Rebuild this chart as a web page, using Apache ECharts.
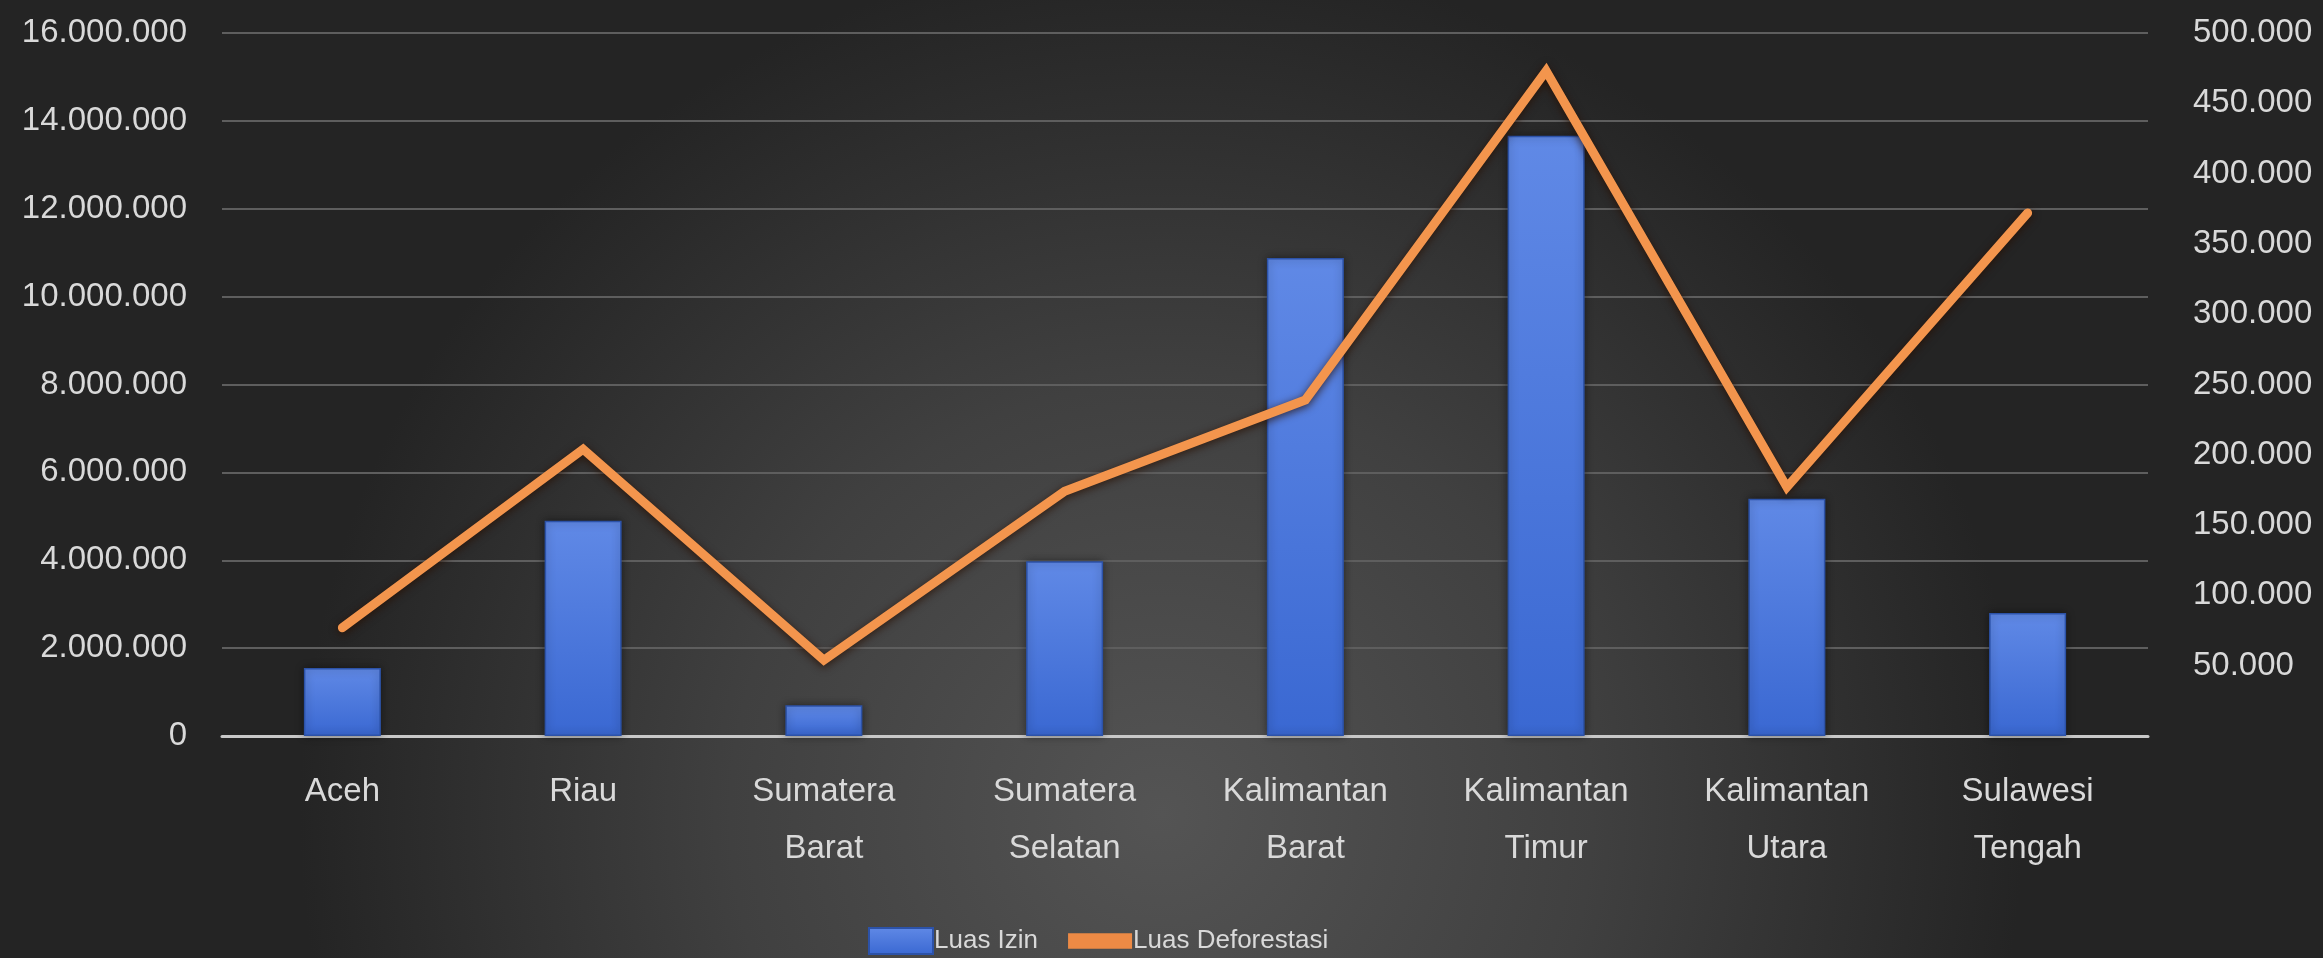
<!DOCTYPE html>
<html>
<head>
<meta charset="utf-8">
<script src="https://cdn.jsdelivr.net/npm/echarts@6/dist/echarts.min.js"></script>
<style>
  html, body { margin: 0; padding: 0; background: #333; }
  #chart { width: 2323px; height: 958px; }
</style>
</head>
<body>
<div id="chart"></div>
<script>
// Provinces on the category axis (two-line labels)
const categories = [
  'Aceh', 'Riau', 'Sumatera\nBarat', 'Sumatera\nSelatan',
  'Kalimantan\nBarat', 'Kalimantan\nTimur', 'Kalimantan\nUtara', 'Sulawesi\nTengah'
];
// Permit area (ha), left axis
const luasIzin = [1550000, 4900000, 700000, 3980000, 10880000, 13660000, 5400000, 2800000];
// Deforested area (ha), right axis
const luasDeforestasi = [77000, 204000, 54000, 174000, 239000, 473000, 177000, 372000];
// Axis ranges
const leftMax = 16000000, leftStep = 2000000;
const rightMax = 500000, rightStep = 50000;

// Indonesian number formatting: dots as thousands separators
function idFormat(v) {
  return String(Math.round(v)).replace(/\B(?=(\d{3})+(?!\d))/g, '.');
}

const textColor = '#d9d9d9';
const font = '"Liberation Sans", Arial, sans-serif';

const chart = echarts.init(document.getElementById('chart'), null, { renderer: 'canvas' });

chart.setOption({
  backgroundColor: {
    type: 'radial', x: 0.5, y: 0.85, r: 0.9,
    colorStops: [
      { offset: 0, color: '#545454' },
      { offset: 0.5, color: '#404040' },
      { offset: 1, color: '#242424' }
    ]
  },
  animation: false,
  textStyle: { fontFamily: font, color: textColor },
  grid: { left: 222, right: 175, top: 33, bottom: 222, containLabel: false },
  legend: {
    left: 863, top: 922,
    itemGap: 30, itemWidth: 64, itemHeight: 26,
    textStyle: { color: textColor, fontSize: 26, fontFamily: font, padding: [0, 0, 0, -4] },
    data: [
      { name: 'Luas Izin', icon: 'rect' },
      { name: 'Luas Deforestasi', icon: 'path://M0,38 L100,38 L100,62 L0,62 Z' }
    ]
  },
  xAxis: {
    type: 'category',
    data: categories,
    axisLine: { show: true, lineStyle: { color: '#c8c8c8', width: 3 } },
    axisTick: { show: false },
    axisLabel: {
      color: textColor, fontSize: 33, fontFamily: font,
      lineHeight: 57, margin: 27, interval: 0
    }
  },
  yAxis: [
    {
      type: 'value', min: 0, max: leftMax, interval: leftStep,
      axisLine: { show: false }, axisTick: { show: false },
      axisLabel: {
        color: textColor, fontSize: 33, fontFamily: font, margin: 35,
        formatter: v => idFormat(v)
      },
      splitLine: { show: true, lineStyle: { color: '#5e5e5e', width: 2 } }
    },
    {
      type: 'value', min: 0, max: rightMax, interval: rightStep,
      position: 'right',
      axisLine: { show: false }, axisTick: { show: false },
      axisLabel: {
        color: textColor, fontSize: 33, fontFamily: font, margin: 45,
        showMinLabel: false,
        formatter: v => idFormat(v)
      },
      splitLine: { show: false }
    }
  ],
  series: [
    {
      name: 'Luas Izin',
      type: 'bar',
      yAxisIndex: 0,
      barWidth: 77,
      data: luasIzin,
      itemStyle: {
        color: {
          type: 'linear', x: 0, y: 0, x2: 0, y2: 1,
          colorStops: [
            { offset: 0, color: '#6089e6' },
            { offset: 1, color: '#3a68d2' }
          ]
        },
        borderColor: '#2c52a8',
        borderWidth: 1.5,
        shadowColor: 'rgba(0,0,0,0.45)',
        shadowBlur: 8
      },
      z: 2
    },
    {
      name: 'Luas Deforestasi',
      type: 'line',
      yAxisIndex: 1,
      data: luasDeforestasi,
      symbol: 'none',
      itemStyle: { color: '#ed8a45' },
      lineStyle: {
        color: '#f3954d',
        width: 9,
        cap: 'round',
        join: 'miter',
        shadowColor: 'rgba(40,15,0,0.8)',
        shadowBlur: 9,
        shadowOffsetY: 2
      },
      z: 3
    }
  ]
});
</script>
</body>
</html>
